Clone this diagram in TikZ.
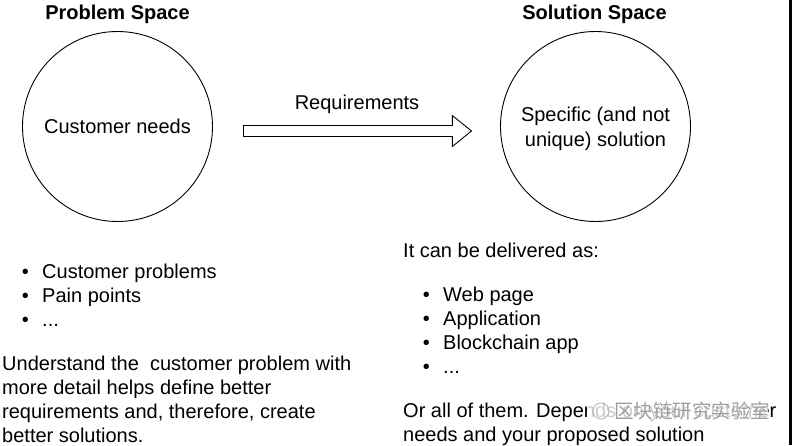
\documentclass[tikz,border=0pt]{standalone}
\usepackage{fontspec}
\setmainfont{Liberation Sans}
\newfontfamily\cjkfont{Noto Sans CJK SC}
\usetikzlibrary{shapes,arrows,positioning}
\newcommand{\moredots}{...}
\tikzset{
  spacecircle/.style={draw,circle,line width=0.9pt,minimum size=190pt,inner sep=0pt,align=center,font=\fontsize{20}{24}\selectfont},
  spacetitle/.style={font=\fontsize{20}{24}\selectfont\bfseries},
  bodytext/.style={anchor=base west,inner sep=0pt,align=left,font=\fontsize{20}{24}\selectfont},
  listbullet/.style={anchor=base,inner sep=0pt,font=\fontsize{20}{24}\selectfont}
}
\begin{document}
\begin{tikzpicture}[x=1pt,y=-1pt]
    \useasboundingbox (0,0) rectangle (792,445);
    \fill[black] (789,0) rectangle (792,445);

    \node[spacecircle] (problem) at (117.5,126.5) {Customer needs};
    \node[spacecircle] (solution) at (595.5,126.5) {\rule{0pt}{20pt}Specific (and not\\[1pt]unique) solution};
    \node[spacetitle,above=4pt of problem.north] (problemtitle) {Problem Space};
    \node[spacetitle,above=4pt of solution.north,xshift=-1pt] (solutiontitle) {Solution Space};

    % block arrow
    \node[draw,single arrow,line width=0.9pt,inner sep=5pt,minimum height=228pt,minimum width=31pt,
        single arrow tip angle=78,single arrow head extend=10pt,anchor=west] (reqarrow) at (243,131) {};
    \node[bodytext,anchor=base] (reqlabel) at (357,109) {Requirements};

    % left column
    \foreach \name/\ypos/\txt in {cust/278/Customer problems,pain/302/Pain points,more/326/\moredots}{
        \node[bodytext] (\name) at (42,\ypos) {\txt};
        \node[listbullet,left=13pt of \name.base west,anchor=base east] (\name bullet) {\textbullet};
    }
    \node[bodytext] (understand) at (2,442) {Understand the\ \ customer problem with\\more detail helps define better\\requirements and, therefore, create\\better solutions.};

    % right column
    \node[bodytext] (delivered) at (403,257) {It can be delivered as:};
    \foreach \name/\ypos/\txt in {web/301/Web page,appl/325/Application,chain/349/Blockchain app,etc/373/\moredots}{
        \node[bodytext] (\name) at (443,\ypos) {\txt};
        \node[listbullet,left=13pt of \name.base west,anchor=base east] (\name bullet) {\textbullet};
    }
    \node[bodytext] (allofthem) at (403,441) {Or all of them. Depends on your customer\\needs and your proposed solution};

    % watermark
    \fill[white,opacity=0.8] (587,400) rectangle (768,421);
    \draw[gray!60,line width=0.8pt] (601,411) circle (8pt);
    \node[inner sep=0pt,text=gray!75,font=\cjkfont\fontsize{19.5}{20}\selectfont] (watermark) at (692,411) {区块链研究实验室};
\end{tikzpicture}
\end{document}
